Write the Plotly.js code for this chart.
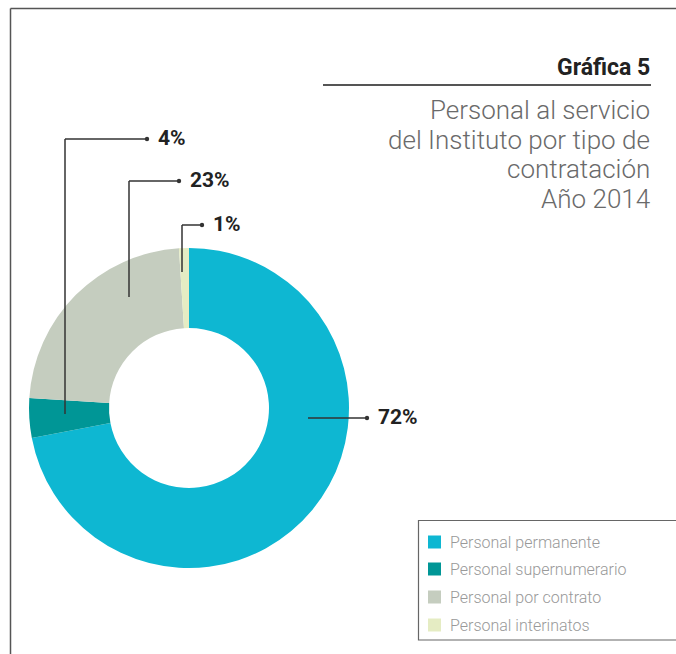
<!DOCTYPE html>
<html><head><meta charset="utf-8">
<script src="https://cdn.plot.ly/plotly-3.0.1.min.js"></script>
<style>html,body{margin:0;padding:0;background:#fff}#chart{width:676px;height:654px}</style>
</head><body><div id="chart"></div>
<script>
const categories = ["Personal permanente", "Personal supernumerario", "Personal por contrato", "Personal interinatos"];
const values = [72, 4, 23, 1];
const colors = ["#0EB7D2", "#009696", "#C5CDBF", "#E5ECC3"];
const titleText = "Gráfica 5";
const subtitleLines = ["Personal al servicio", "del Instituto por tipo de", "contratación", "Año 2014"];

const W = 676, H = 654;
const X = p => p / W, Y = p => 1 - p / H;

// pie geometry (pixels)
const cx = 189, cy = 408, R = 160;

const shapes = [];
const annotations = [];
const lineCol = "#333";

// frame
shapes.push({type:"line", xref:"paper", yref:"paper", x0:X(10.5), x1:X(676), y0:Y(8.5), y1:Y(8.5), line:{color:"#555", width:1.5}});
shapes.push({type:"line", xref:"paper", yref:"paper", x0:X(10.5), x1:X(10.5), y0:Y(8.5), y1:Y(654), line:{color:"#555", width:1.5}});
// title rule
shapes.push({type:"line", xref:"paper", yref:"paper", x0:X(323), x1:X(651), y0:Y(85), y1:Y(85), line:{color:"#555", width:2}});

annotations.push({xref:"paper", yref:"paper", x:X(652), y:Y(67), xanchor:"right", yanchor:"middle", showarrow:false,
  text:"<b>"+titleText+"</b>", font:{family:"Roboto", size:23, color:"#222"}});
const subY = [110, 140, 169, 199];
subtitleLines.forEach((t,i)=>annotations.push({xref:"paper", yref:"paper", x:X(652), y:Y(subY[i]), xanchor:"right", yanchor:"middle",
  showarrow:false, text:t, font:{family:"Roboto", size:26, weight:300, color:"#6a6a6a"}}));

// leader lines: [start point inside slice, corner, end dot] in px
const leaders = [
  {pts:[[308,418],[367,418]], label:0},
  {pts:[[65,414],[65,139],[147,139]], label:1},
  {pts:[[129,297],[129,181],[179,181]], label:2},
  {pts:[[182,272],[182,225],[202,225]], label:3}
];
leaders.forEach(l=>{
  for (let i=0;i<l.pts.length-1;i++){
    shapes.push({type:"line", xref:"paper", yref:"paper", x0:X(l.pts[i][0]), y0:Y(l.pts[i][1]), x1:X(l.pts[i+1][0]), y1:Y(l.pts[i+1][1]), line:{color:lineCol, width:1.5}});
  }
  const e = l.pts[l.pts.length-1];
  shapes.push({type:"circle", xref:"paper", yref:"paper", x0:X(e[0]-2.2), x1:X(e[0]+2.2), y0:Y(e[1]-2.2), y1:Y(e[1]+2.2), fillcolor:lineCol, line:{width:0}});
  annotations.push({xref:"paper", yref:"paper", x:X(e[0]+9), y:Y(e[1]-1), xanchor:"left", yanchor:"middle", showarrow:false,
    text:"<b>"+values[l.label]+"%</b>", font:{family:"Roboto", size:21, color:"#222"}});
});

// manual legend
shapes.push({type:"rect", xref:"paper", yref:"paper", x0:X(418.5), x1:X(680), y0:Y(520.5), y1:Y(640), line:{color:"#666", width:1.2}, fillcolor:"rgba(0,0,0,0)"});
const legY = [542, 569, 597, 625];
categories.forEach((c,i)=>{
  shapes.push({type:"rect", xref:"paper", yref:"paper", x0:X(428), x1:X(441), y0:Y(legY[i]-6.5), y1:Y(legY[i]+6.5), fillcolor:colors[i], line:{width:0}});
  annotations.push({xref:"paper", yref:"paper", x:X(448), y:Y(legY[i]), xanchor:"left", yanchor:"middle", showarrow:false,
    text:c, font:{family:"Roboto", size:16, weight:300, color:"#999"}});
});

const trace = {
  type:"pie", labels:categories, values:values, hole:0.5, sort:false, direction:"clockwise", rotation:0,
  marker:{colors:colors, line:{width:0}}, textinfo:"none", hoverinfo:"label+percent", showlegend:false,
  domain:{x:[X(cx-R), X(cx+R)], y:[Y(cy+R), Y(cy-R)]}
};

Plotly.newPlot("chart", [trace], {
  width:W, height:H, margin:{l:0,r:0,t:0,b:0}, paper_bgcolor:"#fff", plot_bgcolor:"#fff",
  showlegend:false, shapes:shapes, annotations:annotations
}, {displayModeBar:false, staticPlot:true});
</script></body></html>
